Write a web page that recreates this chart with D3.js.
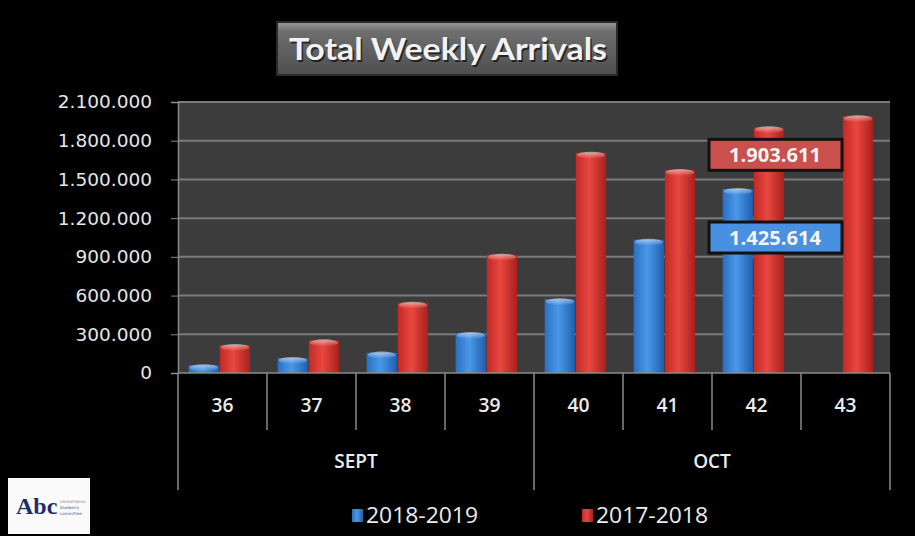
<!DOCTYPE html>
<html>
<head>
<meta charset="utf-8">
<script src="https://cdn.jsdelivr.net/npm/d3@7"></script>
<style>
  html, body { margin: 0; padding: 0; background: #000; }
  svg { display: block; }
</style>
</head>
<body>
<div id="chart"></div>
<script>
// chart data
const weeks = ['36', '37', '38', '39', '40', '41', '42', '43'];
const months = ['SEPT', 'OCT'];
const monthWeeks = [['36', '37', '38', '39'], ['40', '41', '42', '43']];
const seriesNames = ['2018-2019', '2017-2018'];
const arrivals2018_2019 = [60000, 116000, 158000, 310000, 571000, 1033000, 1425614, null];
const arrivals2017_2018 = [217000, 253000, 545000, 917000, 1707000, 1573000, 1903611, 1990000];
const yTicks = [0, 300000, 600000, 900000, 1200000, 1500000, 1800000, 2100000];
const callouts = [
  { week: '42', series: '2017-2018', value: 1903611 },
  { week: '42', series: '2018-2019', value: 1425614 }
];

const W = 915, H = 536;
const margin = { top: 102, right: 25, bottom: 163, left: 178 };

const fmt = d3.formatLocale({ decimal: ',', thousands: '.', grouping: [3], currency: ['', ''] }).format(',d');

const svg = d3.select('#chart').append('svg')
  .attr('width', W).attr('height', H);

svg.append('rect').attr('width', W).attr('height', H).attr('fill', '#000');

const defs = svg.append('defs');
const colors = { '2018-2019': ['#1f5fae', '#4a98e8', '#2a6fc2'], '2017-2018': ['#a8201d', '#e8473f', '#c22a26'] };
seriesNames.forEach((s, i) => {
  const g = defs.append('linearGradient').attr('id', 'bar' + i).attr('x1', 0).attr('x2', 1).attr('y1', 0).attr('y2', 0);
  g.append('stop').attr('offset', '0%').attr('stop-color', colors[s][2]);
  g.append('stop').attr('offset', '45%').attr('stop-color', colors[s][1]);
  g.append('stop').attr('offset', '100%').attr('stop-color', colors[s][0]);
});
const capGrad = defs.append('linearGradient').attr('id', 'cap').attr('x1', 0).attr('x2', 0).attr('y1', 0).attr('y2', 1);
capGrad.append('stop').attr('offset', '0%').attr('stop-color', '#fff').attr('stop-opacity', 0.55);
capGrad.append('stop').attr('offset', '100%').attr('stop-color', '#fff').attr('stop-opacity', 0);
const titleGrad = defs.append('linearGradient').attr('id', 'titleG').attr('x1', 0).attr('x2', 0).attr('y1', 0).attr('y2', 1);
titleGrad.append('stop').attr('offset', '0%').attr('stop-color', '#9a9a9a');
titleGrad.append('stop').attr('offset', '18%').attr('stop-color', '#6e6e6e');
titleGrad.append('stop').attr('offset', '100%').attr('stop-color', '#4e4e4e');

const plotW = W - margin.left - margin.right;
const plotH = H - margin.top - margin.bottom;

const x = d3.scaleBand().domain(weeks).range([margin.left, margin.left + plotW]).padding(0);
const x1 = d3.scaleBand().domain(seriesNames)
  .range([x.bandwidth() * 0.12, x.bandwidth() * 0.81]).paddingInner(0.03);
const y = d3.scaleLinear().domain([0, 2100000]).range([margin.top + plotH, margin.top]);

// plot background
svg.append('rect')
  .attr('x', margin.left).attr('y', margin.top)
  .attr('width', plotW).attr('height', plotH)
  .attr('fill', '#3c3c3c');

// gridlines
svg.append('g')
  .selectAll('line')
  .data(yTicks.slice(1))
  .enter().append('line')
  .attr('x1', margin.left).attr('x2', margin.left + plotW)
  .attr('y1', d => y(d)).attr('y2', d => y(d))
  .attr('stroke', '#7a7a7a').attr('stroke-width', 2);

// y axis
const yAxis = svg.append('g')
  .attr('transform', `translate(${margin.left},0)`)
  .call(d3.axisLeft(y).tickValues(yTicks).tickFormat(fmt).tickSize(7).tickPadding(19));
yAxis.select('.domain').attr('stroke', '#8a8a8a').attr('stroke-width', 1.5);
yAxis.selectAll('.tick line').attr('stroke', '#8a8a8a');
yAxis.selectAll('text')
  .attr('fill', '#e6e6e6')
  .style('font-family', 'DejaVu Sans, sans-serif')
  .style('font-size', '18.5px');

// bars
const rows = weeks.map((w, i) => ({ week: w, values: [arrivals2018_2019[i], arrivals2017_2018[i]] }));
const groups = svg.append('g').selectAll('g')
  .data(rows).enter().append('g')
  .attr('transform', d => `translate(${x(d.week)},0)`);

const bars = groups.selectAll('g.bar')
  .data(d => d.values.map((v, i) => ({ series: seriesNames[i], idx: i, value: v })).filter(b => b.value != null))
  .enter().append('g').attr('class', 'bar');

bars.append('rect')
  .attr('x', d => x1(d.series))
  .attr('y', d => y(d.value))
  .attr('width', x1.bandwidth())
  .attr('height', d => y(0) - y(d.value))
  .attr('fill', d => `url(#bar${d.idx})`);

bars.append('ellipse')
  .attr('cx', d => x1(d.series) + x1.bandwidth() / 2)
  .attr('cy', d => y(d.value) + 2.5)
  .attr('rx', x1.bandwidth() / 2 - 1)
  .attr('ry', 3.5)
  .attr('fill', 'url(#cap)');

// x axis base line
svg.append('line')
  .attr('x1', margin.left).attr('x2', margin.left + plotW)
  .attr('y1', y(0)).attr('y2', y(0))
  .attr('stroke', '#8a8a8a').attr('stroke-width', 1.5);

// week separators
const weekEdges = weeks.map(w => x(w)).concat([x(weeks[weeks.length - 1]) + x.bandwidth()]);
svg.append('g').selectAll('line')
  .data(weekEdges).enter().append('line')
  .attr('x1', d => d).attr('x2', d => d)
  .attr('y1', y(0))
  .attr('y2', (d, i) => (i === 0 || i === 4 || i === weekEdges.length - 1) ? y(0) + 117 : y(0) + 57)
  .attr('stroke', '#8a8a8a').attr('stroke-width', 1.5);

// week labels
svg.append('g').selectAll('text')
  .data(weeks).enter().append('text')
  .attr('x', d => x(d) + x.bandwidth() / 2)
  .attr('y', y(0) + 39)
  .attr('text-anchor', 'middle')
  .attr('fill', '#ececec')
  .attr('textLength', 22).attr('lengthAdjust', 'spacingAndGlyphs')
  .style('font-family', 'Open Sans, sans-serif')
  .style('font-weight', '600')
  .style('font-size', '20px')
  .text(d => d);

// month labels
svg.append('g').selectAll('text')
  .data(months).enter().append('text')
  .attr('x', (d, i) => {
    const ws = monthWeeks[i];
    return (x(ws[0]) + x(ws[ws.length - 1]) + x.bandwidth()) / 2;
  })
  .attr('y', y(0) + 95)
  .attr('text-anchor', 'middle')
  .attr('fill', '#ececec')
  .style('font-family', 'Open Sans, sans-serif')
  .style('font-weight', '600')
  .style('font-size', '19px')
  .text(d => d);

// callout boxes
const calloutFill = { '2017-2018': '#c9504c', '2018-2019': '#4a90e0' };
const cg = svg.append('g').selectAll('g')
  .data(callouts).enter().append('g')
  .attr('transform', d => {
    const top = d.series === '2017-2018' ? y(d.value) + 12 : y(d.value) + 33;
    return `translate(${x(d.week) - 3},${top})`;
  });
cg.append('rect')
  .attr('width', 133).attr('height', 31)
  .attr('fill', d => calloutFill[d.series])
  .attr('stroke', '#111').attr('stroke-width', 3);
cg.append('text')
  .attr('x', 66).attr('y', 23)
  .attr('text-anchor', 'middle')
  .attr('fill', '#f4f4f4')
  .attr('textLength', 92).attr('lengthAdjust', 'spacingAndGlyphs')
  .style('font-family', 'Open Sans, sans-serif')
  .style('font-weight', 'bold')
  .style('font-size', '20px')
  .text(d => fmt(d.value));

// title
svg.append('rect')
  .attr('x', 277).attr('y', 22).attr('width', 340).attr('height', 53)
  .attr('fill', 'url(#titleG)').attr('stroke', '#2a2a2a').attr('stroke-width', 2);
svg.append('text')
  .attr('x', 448).attr('y', 60)
  .attr('text-anchor', 'middle')
  .attr('fill', '#000').attr('opacity', 0.6)
  .attr('dx', 1.5).attr('dy', 1.5)
  .attr('textLength', 318).attr('lengthAdjust', 'spacingAndGlyphs')
  .style('font-family', 'Lato, sans-serif').style('font-weight', 'bold').style('font-size', '31px')
  .text('Total Weekly Arrivals');
svg.append('text')
  .attr('x', 448).attr('y', 60)
  .attr('text-anchor', 'middle')
  .attr('fill', '#f2f2f2')
  .attr('textLength', 318).attr('lengthAdjust', 'spacingAndGlyphs')
  .style('font-family', 'Lato, sans-serif').style('font-weight', 'bold').style('font-size', '31px')
  .text('Total Weekly Arrivals');

// legend
const legend = svg.append('g').selectAll('g')
  .data(seriesNames).enter().append('g')
  .attr('transform', (d, i) => `translate(${352 + i * 230},509)`);
legend.append('rect')
  .attr('width', 11).attr('height', 13)
  .attr('fill', (d, i) => `url(#bar${i})`);
legend.append('text')
  .attr('x', 14).attr('y', 14)
  .attr('fill', '#ececec')
  .attr('textLength', 112).attr('lengthAdjust', 'spacingAndGlyphs')
  .style('font-family', 'Open Sans, sans-serif')
  .style('font-size', '21px')
  .text(d => d);

// logo
const logo = svg.append('g').attr('transform', 'translate(8,478)');
logo.append('rect').attr('width', 82).attr('height', 56).attr('fill', '#fafafa');
logo.append('text')
  .attr('x', 8).attr('y', 36)
  .attr('fill', '#1d2f6b')
  .style('font-family', 'Liberation Serif, serif')
  .style('font-weight', 'bold')
  .style('font-size', '24px')
  .text('Abc');
logo.append('text')
  .attr('x', 52).attr('y', 25)
  .attr('fill', '#7a8090')
  .style('font-family', 'DejaVu Sans, sans-serif')
  .style('font-size', '3.5px')
  .text('ARGENTINEAN');
logo.append('text')
  .attr('x', 52).attr('y', 31)
  .attr('fill', '#4a5580')
  .style('font-family', 'DejaVu Sans, sans-serif')
  .style('font-size', '4px')
  .text('blueberry');
logo.append('text')
  .attr('x', 52).attr('y', 37)
  .attr('fill', '#4a5580')
  .style('font-family', 'DejaVu Sans, sans-serif')
  .style('font-size', '4px')
  .text('committee');
</script>
</body>
</html>
